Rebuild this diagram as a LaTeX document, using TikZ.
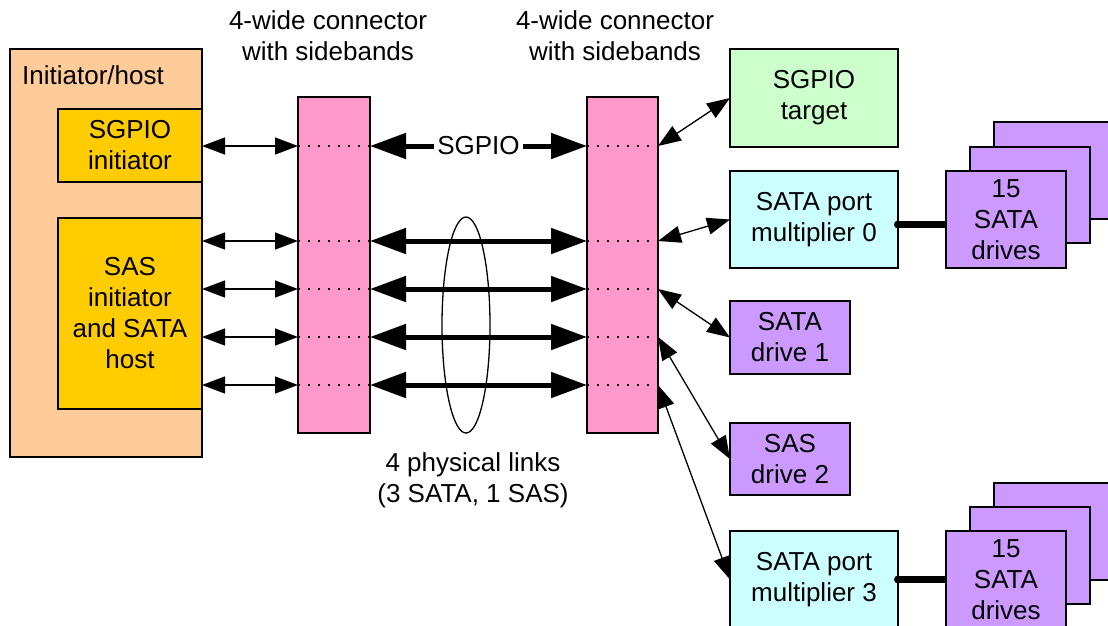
\documentclass[tikz,border=0pt]{standalone}
\usepackage{fontspec}
\setmainfont{Liberation Sans}
\usetikzlibrary{arrows.meta,shapes.geometric}
\definecolor{peach}{HTML}{FFCC99}
\definecolor{gold}{HTML}{FFCC00}
\definecolor{pinkc}{HTML}{FF99CC}
\definecolor{greenc}{HTML}{CCFFCC}
\definecolor{cyanc}{HTML}{CCFFFF}
\definecolor{purplec}{HTML}{CC99FF}
\newcommand\dfont{\fontsize{26}{31}\selectfont}
\begin{document}
\begin{tikzpicture}[x=1pt,y=-1pt,
  box/.style={draw, line width=1.4pt, inner sep=0pt, outer sep=0pt, anchor=north west, align=center, font=\dfont},
  lbl/.style={inner sep=0pt, align=center, font=\dfont},
  tarrow/.style={line width=1.3pt, {Triangle[length=23pt,width=17pt]}-{Triangle[length=23pt,width=17pt]}},
  Tarrow/.style={line width=5pt, {Triangle[length=36pt,width=25pt]}-{Triangle[length=36pt,width=25pt]}},
  dots/.style={line width=2pt, dash pattern=on 2pt off 8pt},
  bus/.style={line width=7pt},
]
\path[use as bounding box] (0,0) rectangle (1108,625);
\clip (0,0) rectangle (1108,625);

% left side
\node[box, fill=peach, minimum width=192pt, minimum height=408pt] (host) at (10,49) {};
\node[lbl, anchor=west] (hostlbl) at (22,75) {Initiator/host};
\node[box, fill=gold, minimum width=144pt, minimum height=73pt] (sgi) at (58,109) {SGPIO\\initiator};
\node[box, fill=gold, minimum width=144pt, minimum height=191pt] (sas) at (58,218) {SAS\\initiator\\and SATA\\host};

% connectors
\node[box, fill=pinkc, minimum width=72pt, minimum height=336pt] (lc) at (298,97) {};
\node[box, fill=pinkc, minimum width=71pt, minimum height=336pt] (rc) at (587,97) {};

% right side
\node[box, fill=greenc, minimum width=168pt, minimum height=98pt] (sgt) at (730,49) {SGPIO\\target};
\node[box, fill=cyanc, minimum width=168pt, minimum height=97pt] (m0) at (730,171) {SATA port\\multiplier 0};
\node[box, fill=purplec, minimum width=120pt, minimum height=97pt] (s0c) at (994,122) {};
\node[box, fill=purplec, minimum width=120pt, minimum height=96pt] (s0b) at (970,147) {};
\node[box, fill=purplec, minimum width=120pt, minimum height=97pt] (s0a) at (946,171) {15\\SATA\\drives};
\node[box, fill=purplec, minimum width=120pt, minimum height=73pt] (drv1) at (730,301) {SATA\\drive 1};
\node[box, fill=purplec, minimum width=120pt, minimum height=72pt] (drv2) at (730,423) {SAS\\drive 2};
\node[box, fill=cyanc, minimum width=168pt, minimum height=97pt] (m3) at (730,531) {SATA port\\multiplier 3};
\node[box, fill=purplec, minimum width=120pt, minimum height=97pt] (s3c) at (994,483) {};
\node[box, fill=purplec, minimum width=120pt, minimum height=97pt] (s3b) at (970,507) {};
\node[box, fill=purplec, minimum width=120pt, minimum height=97pt] (s3a) at (946,531) {15\\SATA\\drives};

% labels
\node[lbl] (cl1) at (328,36) {4-wide connector\\with sidebands};
\node[lbl] (cl2) at (615,36) {4-wide connector\\with sidebands};
\node[lbl] (links) at (473,480) {4 physical links\\(3 SATA, 1 SAS)};

% row coordinates
\foreach \i/\y in {0/146,1/241,2/289,3/337,4/385} {
  \coordinate (ra\i) at (202,\y);
  \coordinate (rb\i) at (298,\y);
  \coordinate (rc\i) at (370,\y);
  \coordinate (rd\i) at (587,\y);
  \coordinate (re\i) at (658,\y);
}
\foreach \i in {0,...,4} {
  \draw[dots] (rb\i) -- (rc\i);
  \draw[dots] (rd\i) -- (re\i);
  \draw[tarrow] (ra\i) -- (rb\i);
}

\node[draw, ellipse, line width=1.3pt, inner sep=0pt, minimum width=48pt, minimum height=216pt] (bundle) at (466,325) {};

\draw[Tarrow] (rc0) -- node[fill=white, inner sep=3pt, font=\dfont] (sgpiolbl) {SGPIO} (rd0);
\foreach \i in {1,...,4} \draw[Tarrow] (rc\i) -- (rd\i);

% right arrows
\draw[tarrow] (re0) -- (sgt.west);
\draw[tarrow] (re1) -- (m0.west);
\draw[tarrow] (re2) -- (drv1.west);
\draw[tarrow] (re3) -- (drv2.west);
\draw[tarrow] (re4) -- (m3.west);

% buses to drive stacks
\coordinate (m0o) at ([yshift=-5pt]m0.east);
\draw[bus] (m0o) -- (m0o -| s0a.west);
\fill (m0o) circle (4pt);
\draw[bus] (m3.east) -- (s3a.west);
\fill (m3.east) circle (4pt);
\end{tikzpicture}
\end{document}
